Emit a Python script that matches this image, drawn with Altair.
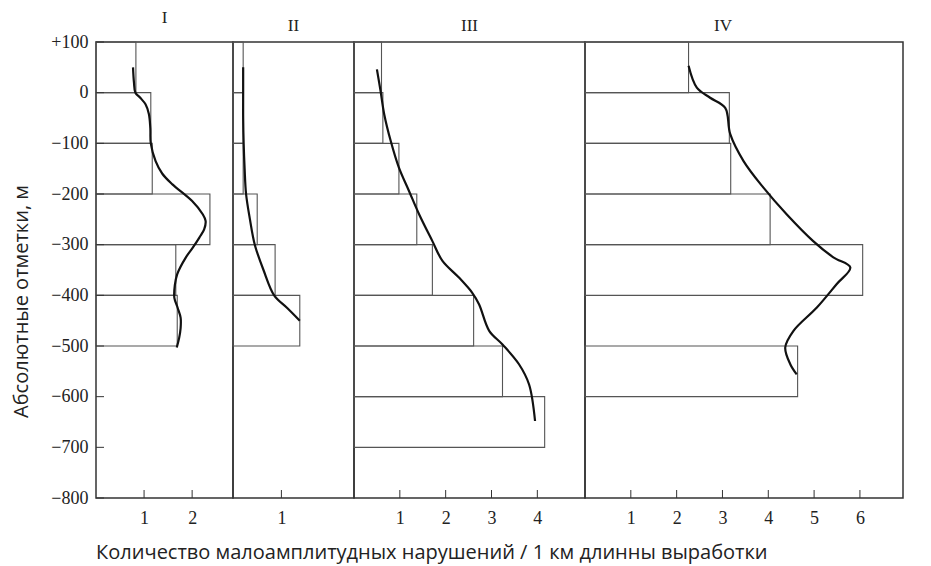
import altair as alt
import pandas as pd

# ---------------- data ----------------
panels = ["I", "II", "III", "IV"]

# histogram bars: top of 100 m interval -> value (count per 1 km)
bar_tops_I = [100, 0, -100, -200, -300, -400]
bar_vals_I = [0.83, 1.14, 1.17, 2.37, 1.66, 1.69]

bar_tops_II = [100, 0, -100, -200, -300, -400]
bar_vals_II = [0.21, 0.21, 0.21, 0.50, 0.87, 1.38]

bar_tops_III = [100, 0, -100, -200, -300, -400, -500, -600]
bar_vals_III = [0.60, 0.63, 0.98, 1.37, 1.71, 2.61, 3.24, 4.16]

bar_tops_IV = [100, 0, -100, -200, -300, -500]
bar_vals_IV = [2.26, 3.15, 3.18, 4.04, 6.06, 4.64]

# smoothed curves: elevation -> value
curve_y_I = [50, 20, 0, -10, -23, -42, -70, -100, -135, -160, -181, -214, -240, -253,
             -270, -286, -305, -325, -358, -380, -405, -425, -444, -465, -484, -503]
curve_v_I = [0.77, 0.79, 0.82, 0.92, 1.03, 1.10, 1.13, 1.14, 1.24, 1.38, 1.59, 2.00, 2.22, 2.28,
             2.25, 2.15, 2.02, 1.87, 1.69, 1.64, 1.63, 1.70, 1.76, 1.76, 1.73, 1.68]

curve_y_II = [50, 0, -50, -100, -150, -200, -250, -300, -350, -400, -425, -450]
curve_v_II = [0.21, 0.21, 0.21, 0.22, 0.24, 0.27, 0.35, 0.45, 0.63, 0.85, 1.12, 1.38]

curve_y_III = [46, 3, -43, -95, -148, -194, -240, -293, -332, -365, -395, -418, -470,
               -497, -536, -576, -648]
curve_v_III = [0.50, 0.58, 0.66, 0.80, 0.98, 1.20, 1.42, 1.71, 1.93, 2.29, 2.58, 2.73, 2.95,
               3.24, 3.60, 3.82, 3.95]

curve_y_IV = [53, 10, -10, -30, -82, -135, -187, -240, -293, -325, -345, -378, -424,
              -470, -503, -536, -556]
curve_v_IV = [2.26, 2.44, 2.73, 3.06, 3.17, 3.46, 3.89, 4.40, 4.98, 5.42, 5.79, 5.49, 5.06,
              4.55, 4.37, 4.48, 4.62]

y_tick_values = [100, 0, -100, -200, -300, -400, -500, -600, -700, -800]
x_ticks = {"I": [1, 2], "II": [1], "III": [1, 2, 3, 4], "IV": [1, 2, 3, 4, 5, 6]}
x_max = {"I": 2.85, "II": 2.5, "III": 5.04, "IV": 6.94}
panel_width = {"I": 137, "II": 121, "III": 231, "IV": 318}
title_dx = {"I": 0, "II": 0, "III": 0, "IV": -21}

y_title = "Абсолютные отметки, м"
x_title = "Количество малоамплитудных нарушений / 1 км длинны выработки"

bars = {
    "I": (bar_tops_I, bar_vals_I),
    "II": (bar_tops_II, bar_vals_II),
    "III": (bar_tops_III, bar_vals_III),
    "IV": (bar_tops_IV, bar_vals_IV),
}
curves = {
    "I": (curve_y_I, curve_v_I),
    "II": (curve_y_II, curve_v_II),
    "III": (curve_y_III, curve_v_III),
    "IV": (curve_y_IV, curve_v_IV),
}

H = 456
SERIF = "Liberation Serif"
SANS = "Open Sans"
yscale = alt.Scale(domain=[-800, 100], nice=False, zero=False)


def make_panel(p):
    tops, vals = bars[p]
    bdf = pd.DataFrame({"top": tops, "bottom": [t - 100 for t in tops],
                        "base": [0] * len(tops), "v": vals})
    cy, cv = curves[p]
    cdf = pd.DataFrame({"y": cy, "v": cv, "i": list(range(len(cy)))})
    tdf = pd.DataFrame({"t": x_ticks[p]})
    xscale = alt.Scale(domain=[0, x_max[p]], nice=False, zero=False)
    xaxis = alt.Axis(values=x_ticks[p], ticks=False, domain=False, grid=False,
                     labelPadding=11, title=None, format="d")
    if p == "I":
        yaxis = alt.Axis(values=y_tick_values, ticks=False, domain=False, grid=False,
                         labelPadding=8,
                         labelExpr="datum.value > 0 ? '+' + datum.value : datum.label",
                         title=y_title, titleFont=SANS, titleFontSize=20,
                         titleFontWeight="normal", titleColor="#222",
                         titlePadding=19, titleY=259)
    else:
        yaxis = None

    rects = alt.Chart(bdf).mark_rect(filled=False, stroke="#555", strokeWidth=1.1).encode(
        x=alt.X("base:Q", scale=xscale, axis=xaxis),
        x2="v:Q",
        y=alt.Y("top:Q", scale=yscale, axis=yaxis),
        y2="bottom:Q",
    )
    line = alt.Chart(cdf).mark_line(interpolate="catmull-rom", color="#111",
                                    strokeWidth=2.2).encode(
        x=alt.X("v:Q", scale=xscale, axis=xaxis),
        y=alt.Y("y:Q", scale=yscale, axis=yaxis),
        order="i:Q",
    )
    xt = alt.Chart(tdf).mark_rule(color="#333", strokeWidth=1).encode(
        x=alt.X("t:Q", scale=xscale, axis=xaxis),
        y=alt.value(H),
        y2=alt.value(H - 8),
    )
    layers = [rects, line, xt]
    if p == "I":
        ydf = pd.DataFrame({"yt": y_tick_values})
        yt = alt.Chart(ydf).mark_rule(color="#333", strokeWidth=1).encode(
            y=alt.Y("yt:Q", scale=yscale, axis=yaxis),
            x=alt.value(0),
            x2=alt.value(8),
        )
        layers.append(yt)
    return alt.layer(*layers).properties(
        width=panel_width[p], height=H,
        title=alt.TitleParams(p, font=SERIF, fontSize=17, fontWeight="normal",
                              color="#222", offset=6, dx=title_dx[p]),
    )


chart = alt.hconcat(*[make_panel(p) for p in panels], spacing=0, bounds="flush").properties(
    padding={"left": 3, "top": 0, "right": 5, "bottom": 6},
    background="white",
    title=alt.TitleParams(x_title, orient="bottom", anchor="start", font=SANS,
                          fontSize=20, fontWeight="normal", color="#222",
                          offset=15, dx=85),
).configure_view(stroke="#333", strokeWidth=1.5).configure_axis(
    labelFont=SERIF, labelFontSize=18, labelColor="#222"
)

chart.save("out.html", embed_options={"renderer": "svg", "actions": False})
